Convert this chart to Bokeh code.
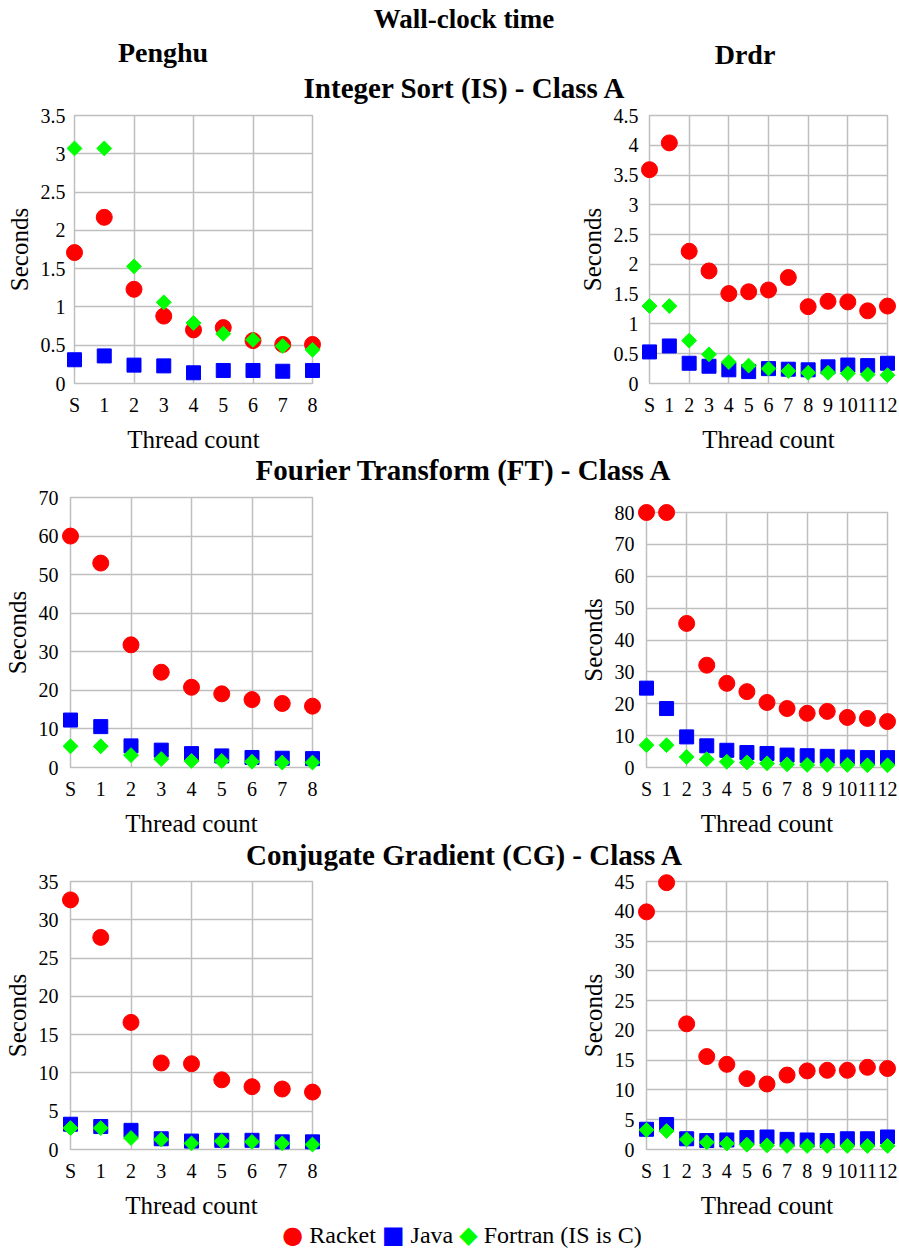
import numpy as np
from bokeh.plotting import figure
from bokeh.models import FixedTicker, Div, ColumnDataSource, NumeralTickFormatter, Spacer
from bokeh.layouts import column, row
from bokeh.embed import file_html
from bokeh.resources import INLINE

FONT = "Liberation Serif"
RED = "#ff0000"
BLUE = "#0000ff"
GREEN = "#00ff00"
GRID = "#bfbfbf"

# ---------------- data ----------------
penghu_threads = ["S", "1", "2", "3", "4", "5", "6", "7", "8"]
drdr_threads = ["S", "1", "2", "3", "4", "5", "6", "7", "8", "9", "10", "11", "12"]

# Integer Sort (IS) - Class A
is_penghu_racket = [1.71, 2.17, 1.23, 0.88, 0.70, 0.73, 0.56, 0.51, 0.51]
is_penghu_java = [0.31, 0.36, 0.24, 0.23, 0.14, 0.17, 0.17, 0.16, 0.17]
is_penghu_fortran = [3.07, 3.07, 1.53, 1.06, 0.79, 0.65, 0.57, 0.49, 0.44]
is_drdr_racket = [3.59, 4.04, 2.22, 1.89, 1.51, 1.54, 1.57, 1.78, 1.29, 1.38, 1.37, 1.22, 1.30]
is_drdr_java = [0.53, 0.63, 0.34, 0.29, 0.23, 0.20, 0.25, 0.24, 0.23, 0.28, 0.31, 0.30, 0.34]
is_drdr_fortran = [1.30, 1.30, 0.72, 0.49, 0.36, 0.30, 0.25, 0.21, 0.18, 0.18, 0.17, 0.15, 0.14]

# Fourier Transform (FT) - Class A
ft_penghu_racket = [60.0, 53.0, 31.8, 24.7, 20.8, 19.1, 17.6, 16.6, 15.9]
ft_penghu_java = [12.3, 10.6, 5.6, 4.5, 3.6, 3.0, 2.6, 2.4, 2.3]
ft_penghu_fortran = [5.5, 5.5, 3.2, 2.2, 1.7, 1.7, 1.5, 1.3, 1.3]
ft_drdr_racket = [80.0, 80.0, 45.2, 32.1, 26.4, 23.8, 20.4, 18.5, 17.0, 17.6, 15.7, 15.4, 14.4]
ft_drdr_java = [24.9, 18.5, 9.6, 6.8, 5.4, 4.7, 4.4, 3.9, 3.7, 3.5, 3.3, 3.1, 3.1]
ft_drdr_fortran = [7.0, 7.0, 3.3, 2.6, 1.8, 1.6, 1.3, 1.0, 0.8, 0.8, 0.8, 0.7, 0.7]

# Conjugate Gradient (CG) - Class A
cg_penghu_racket = [32.6, 27.7, 16.6, 11.3, 11.2, 9.1, 8.2, 7.9, 7.5]
cg_penghu_java = [3.3, 3.0, 2.5, 1.4, 1.1, 1.2, 1.2, 1.0, 1.0]
cg_penghu_fortran = [2.8, 2.8, 1.5, 1.3, 0.8, 1.1, 1.0, 0.8, 0.65]
cg_drdr_racket = [39.9, 44.8, 21.1, 15.6, 14.3, 11.9, 11.0, 12.5, 13.2, 13.3, 13.3, 13.8, 13.6]
cg_drdr_java = [3.4, 4.2, 1.8, 1.5, 1.6, 2.0, 2.1, 1.7, 1.6, 1.5, 1.8, 1.8, 2.1]
cg_drdr_fortran = [3.3, 3.1, 1.7, 1.2, 1.0, 0.8, 0.7, 0.6, 0.6, 0.6, 0.6, 0.6, 0.6]

# y axis scales: (max, step)
is_penghu_axis = (3.5, 0.5)
is_drdr_axis = (4.5, 0.5)
ft_penghu_axis = (70, 10)
ft_drdr_axis = (80, 10)
cg_penghu_axis = (35, 5)
cg_drdr_axis = (45, 5)


def panel(threads, racket, java, fortran, axis, fw, fh, bl, br, bt, bb, ystand):
    n = len(threads)
    xs = list(range(n))
    ymax, ystep = axis
    p = figure(frame_width=fw, frame_height=fh, x_range=(0, n - 1), y_range=(0, ymax),
               min_border_left=bl, min_border_right=br, min_border_top=bt, min_border_bottom=bb,
               output_backend="svg", toolbar_location=None,
               background_fill_color="white", border_fill_color="white")
    src = ColumnDataSource(dict(x=xs, racket=racket, java=java, fortran=fortran))
    p.scatter("x", "racket", source=src, marker="circle", size=16, color=RED, level="overlay")
    p.scatter("x", "java", source=src, marker="square", size=14, color=BLUE, level="overlay")
    p.scatter("x", "fortran", source=src, marker="square", size=10.5, angle=np.pi / 4,
              color=GREEN, level="overlay")

    p.outline_line_color = GRID
    p.outline_line_width = 1.5

    xa = p.xaxis[0]
    xa.ticker = FixedTicker(ticks=xs)
    xa.major_label_overrides = {i: t for i, t in enumerate(threads)}
    xa.axis_label = "Thread count"
    xa.major_label_standoff = 10
    xa.axis_label_standoff = 7

    ya = p.yaxis[0]
    yt = [round(v * ystep, 6) for v in range(int(round(ymax / ystep)) + 1)]
    ya.ticker = FixedTicker(ticks=yt)
    ya.formatter = NumeralTickFormatter(format="0.[0]")
    ya.axis_label = "Seconds"
    ya.major_label_standoff = ystand
    ya.axis_label_standoff = 5

    for ax in (xa, ya):
        ax.axis_line_color = None
        ax.major_tick_line_color = None
        ax.minor_tick_line_color = None
        ax.major_tick_in = 0
        ax.major_tick_out = 0
        ax.minor_tick_in = 0
        ax.minor_tick_out = 0
        ax.major_label_text_font = FONT
        ax.major_label_text_font_size = "20px"
        ax.major_label_text_color = "#000000"
        ax.axis_label_text_font = FONT
        ax.axis_label_text_font_size = "25px"
        ax.axis_label_text_font_style = "normal"
        ax.axis_label_text_color = "#000000"

    p.xgrid.ticker = FixedTicker(ticks=list(range(0, n, 2)))
    p.ygrid.ticker = FixedTicker(ticks=yt)
    for g in (p.xgrid[0], p.ygrid[0]):
        g.grid_line_color = GRID
        g.grid_line_width = 1.5
    return p


A = panel(penghu_threads, is_penghu_racket, is_penghu_java, is_penghu_fortran, is_penghu_axis,
          238, 268, 74, 137, 11, 72, 9)
B = panel(drdr_threads, is_drdr_racket, is_drdr_java, is_drdr_fortran, is_drdr_axis,
          238, 268, 200, 12, 11, 72, 11)
C = panel(penghu_threads, ft_penghu_racket, ft_penghu_java, ft_penghu_fortran, ft_penghu_axis,
          242, 270, 70, 137, 12, 73, 12)
D = panel(drdr_threads, ft_drdr_racket, ft_drdr_java, ft_drdr_fortran, ft_drdr_axis,
          241, 255, 197, 12, 12, 73, 12)
E = panel(penghu_threads, cg_penghu_racket, cg_penghu_java, cg_penghu_fortran, cg_penghu_axis,
          242, 268, 70, 137, 11, 74, 12)
F = panel(drdr_threads, cg_drdr_racket, cg_drdr_java, cg_drdr_fortran, cg_drdr_axis,
          241, 268, 197, 12, 11, 74, 12)

CSS_FONT = "'Liberation Serif', 'Times New Roman', serif"


def span(text, x, y, size, bold=True, extra=""):
    w = "bold" if bold else "normal"
    return (f'<span style="position:absolute;left:{x}px;top:{y}px;transform:translate(-50%,-50%);'
            f'white-space:nowrap;font-family:{CSS_FONT};font-weight:{w};font-size:{size}px;'
            f'line-height:1;color:#000;{extra}">{text}</span>')


def box(inner, h):
    return f'<div style="position:relative;width:899px;height:{h}px;">{inner}</div>'


header = Div(text=box(span("Wall-clock time", 464, 19, 27)
                      + span("Penghu", 163, 53, 28)
                      + span("Drdr", 745, 55, 28)
                      + span("Integer Sort (IS) - Class A", 464, 88, 29), 104),
             width=899, height=104, margin=(0, 0, 0, 0))
ft_title = Div(text=box(span("Fourier Transform (FT) - Class A", 463, 15, 29), 30),
               width=899, height=30, margin=(0, 0, 0, 0))
cg_title = Div(text=box(span("Conjugate Gradient (CG) - Class A", 464, 15, 29), 30),
               width=899, height=30, margin=(0, 0, 0, 0))

sym = "font-family:'DejaVu Sans';font-size:24px;"
txt = f"font-family:{CSS_FONT};"
legend_html = (
    f'<span style="{sym}color:{RED};">&#9679;</span>'
    f'<span style="{txt}"> Racket </span>'
    f'<span style="{sym}color:{BLUE};">&#9632;</span>'
    f'<span style="{txt}"> Java </span>'
    f'<span style="{sym}color:{GREEN};">&#9670;</span>'
    f'<span style="{txt}"> Fortran (IS is C)</span>'
)
legend = Div(text=box(span(legend_html, 462, 12, 24, bold=False), 28),
             width=899, height=28, margin=(0, 0, 0, 0))

row2 = row(column(C), column(Spacer(width=450, height=15), D))
layout = column(header, row(A, B), ft_title, row2, cg_title, row(E, F), legend, spacing=0)

open("out.html", "w").write(file_html(layout, INLINE))
